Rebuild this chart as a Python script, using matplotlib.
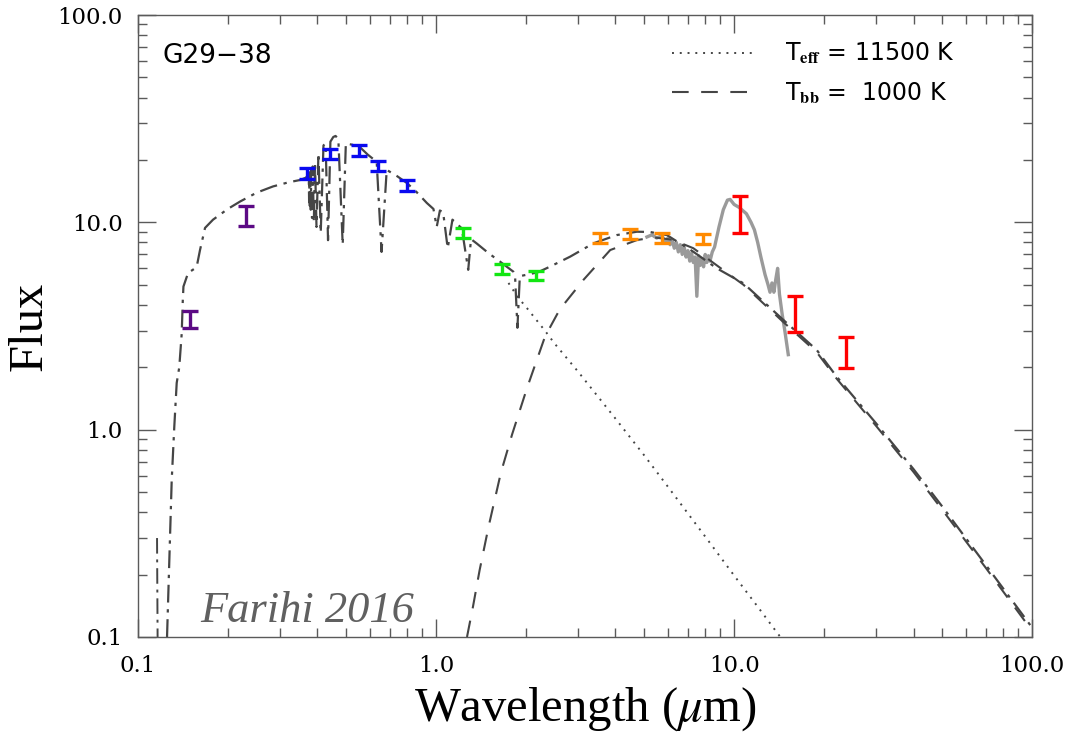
import matplotlib
matplotlib.use("Agg")
import matplotlib.pyplot as plt
import numpy as np
from matplotlib.ticker import FixedLocator, FixedFormatter, LogLocator, NullFormatter

plt.rcParams.update({
    "mathtext.fontset": "stix",
    "font.family": "DejaVu Serif",
})

# ── photometry (wavelength in micron, flux error-bar limits) ────────────────
uv_wave = [0.149, 0.230]
uv_lo = [3.09, 9.6]
uv_hi = [3.73, 12.0]

opt_wave = [0.368, 0.440, 0.551, 0.640, 0.800]
opt_lo = [16.2, 20.2, 21.0, 17.7, 14.2]
opt_hi = [18.3, 22.7, 23.6, 19.8, 16.0]

nir_wave = [1.235, 1.66, 2.17]
nir_lo = [8.37, 5.63, 5.27]
nir_hi = [9.42, 6.29, 5.82]

irac_wave = [3.55, 4.48, 5.72, 7.85]
irac_lo = [7.92, 8.28, 7.92, 7.83]
irac_hi = [8.85, 9.25, 8.85, 8.78]

mir_wave = [10.47, 16.0, 23.7]
mir_lo = [8.85, 2.97, 1.99]
mir_hi = [13.4, 4.41, 2.81]

# ── model curves ────────────────────────────────────────────────────────────
total_wave = [0.1251, 0.1297, 0.1323, 0.1348, 0.1375, 0.1401, 0.1413, 0.1420,
              0.1472, 0.1553, 0.1580, 0.1614, 0.1678, 0.1785, 0.2000, 0.2200,
              0.2500, 0.2838, 0.3200, 0.3497, 0.3650, 0.3720, 0.3740, 0.3750,
              0.3760, 0.3771, 0.3782, 0.3798, 0.3812, 0.3835, 0.3855, 0.3889,
              0.3925, 0.3970, 0.4030, 0.4102, 0.4190, 0.4260, 0.4340, 0.4420,
              0.4520, 0.4600, 0.4700, 0.4861, 0.4980, 0.5300, 0.5560, 0.5900,
              0.6320, 0.6563, 0.6830, 0.7400, 0.7970, 0.8600, 0.9310, 0.9800,
              1.0050, 1.0300, 1.0560, 1.0940, 1.1350, 1.2200, 1.2820, 1.3100,
              1.3700, 1.5000, 1.6400, 1.8170, 1.8400, 1.8750, 1.9100, 2.0670,
              2.2000, 2.4100, 2.8180, 3.3730, 4.0400, 4.7200, 5.2300, 5.9500,
              7.3000, 8.7500, 10.750, 14.640, 18.950, 22.100, 30.000, 40.000,
              50.000, 70.000, 100.00]
total_flux = [0.10, 0.57, 1.03, 1.68, 2.0, 2.9, 4.2, 4.9,
              5.7, 6.0, 6.3, 7.35, 9.4, 10.3, 11.6, 12.6,
              13.9, 14.9, 15.6, 16.0, 16.4, 16.8, 17.0, 12.5,
              17.2, 12.0, 17.5, 11.5, 18.0, 10.5, 18.6, 10.0,
              19.5, 9.5, 21.5, 8.9, 23.5, 24.0, 8.2, 24.5,
              25.8, 26.1, 25.2, 7.8, 24.0, 23.6, 23.0, 21.2,
              19.6, 7.2, 17.9, 16.7, 15.5, 14.0, 12.4, 11.6,
              9.5, 11.4, 11.2, 7.5, 10.3, 9.35, 5.9, 8.3,
              7.9, 7.1, 6.46, 5.78, 5.6, 3.1, 5.5, 5.63,
              5.75, 6.11, 6.83, 7.92, 8.68, 9.01, 8.98, 8.68,
              7.21, 6.00, 5.08, 3.38, 2.42, 1.80, 1.07, 0.645,
              0.425, 0.222, 0.111]

# short detached piece of the model near Lyman alpha
lya_wave = [0.1158, 0.1163]
lya_flux = [0.30, 0.10]

star_wave = [1.75, 1.88, 2.02, 2.32, 2.50, 3.00, 4.00, 5.00, 6.00, 8.00,
             10.0, 12.0, 14.0, 14.7]
star_flux = [5.1, 4.36, 3.85, 3.0, 2.6, 1.9, 1.13, 0.75, 0.53, 0.305,
             0.198, 0.140, 0.104, 0.095]

bb_wave = [1.27, 1.33, 1.40, 1.50, 1.65, 1.80, 2.02, 2.32, 2.60, 3.12,
           3.84, 4.73, 5.40, 6.20, 7.30, 8.75, 10.75, 14.64, 18.95, 22.10,
           30.0, 40.0, 50.0, 70.0, 100.0]
bb_flux = [0.10, 0.14, 0.21, 0.34, 0.62, 0.95, 1.59, 2.81, 3.80, 5.27,
           7.35, 8.22, 8.45, 8.25, 7.5, 6.2, 5.0, 3.30, 2.36, 1.76,
           1.04, 0.625, 0.41, 0.215, 0.107]

# Spitzer IRS spectrum (grey)
irs_wave = [5.1, 5.3, 5.5, 5.7, 5.9, 6.0, 6.1, 6.2, 6.3, 6.4, 6.5, 6.6,
            6.7, 6.8, 6.9, 7.0, 7.1, 7.2, 7.3, 7.4, 7.5, 7.6, 7.7, 7.8,
            7.9, 8.0, 8.1, 8.2, 8.3, 8.45, 8.6, 8.9, 9.2, 9.5, 9.7, 10.0,
            10.4, 11.0, 11.4, 11.7, 12.0, 12.3, 12.7, 13.0, 13.2, 13.4, 13.6,
            13.8, 14.0, 14.2, 14.5, 14.8, 15.2]
irs_flux = [8.5, 8.7, 8.4, 8.6, 8.1, 8.4, 7.8, 8.2, 7.5, 8.0, 7.2, 7.8,
            7.0, 7.6, 6.8, 7.3, 6.5, 7.1, 6.4, 6.8, 4.4, 6.9, 6.2, 6.7,
            6.1, 7.0, 6.4, 6.9, 6.5, 7.2, 7.6, 9.5, 11.5, 12.8, 12.9, 12.2,
            11.8, 11.0, 10.0, 9.2, 8.0, 6.8, 5.6, 5.0, 4.6, 5.1, 4.6,
            5.3, 6.0, 4.5, 3.6, 3.0, 2.3]

xticks = [0.1, 1.0, 10.0, 100.0]
xtick_labels = ["0.1", "1.0", "10.0", "100.0"]
yticks = [0.1, 1.0, 10.0, 100.0]
ytick_labels = ["0.1", "1.0", "10.0", "100.0"]

LINE = "#454545"
DASHDOT = (0, (8, 3, 1.5, 3))

fig = plt.figure(figsize=(10.76, 7.5), dpi=100)
ax = fig.add_axes([0.1283, 0.1507, 0.8309, 0.8293])

ax.plot(irs_wave, irs_flux, color="#9a9a9a", lw=2.4, zorder=2)
ax.plot(star_wave, star_flux, color=LINE, lw=1.4, ls=(0, (1, 3)), zorder=3,
        label=r"T$_{\mathbf{eff}}$ = 11500 K")
ax.plot(bb_wave, bb_flux, color=LINE, lw=1.5, ls=(0, (8, 6)), zorder=3,
        label=r"T$_{\mathbf{bb}}$ =  1000 K")
ax.plot(total_wave, total_flux, color=LINE, lw=1.6, ls=DASHDOT, zorder=3)
ax.plot(lya_wave, lya_flux, color=LINE, lw=1.4, ls=DASHDOT, zorder=3)

groups = [
    (uv_wave, uv_lo, uv_hi, "#5c0a85"),
    (opt_wave, opt_lo, opt_hi, "#0a0af0"),
    (nir_wave, nir_lo, nir_hi, "#12e612"),
    (irac_wave, irac_lo, irac_hi, "#ff8a00"),
    (mir_wave, mir_lo, mir_hi, "#ff0000"),
]
for w, lo, hi, col in groups:
    lo = np.array(lo)
    hi = np.array(hi)
    mid = 0.5 * (lo + hi)
    ax.errorbar(w, mid, yerr=[mid - lo, hi - mid], fmt="none", ecolor=col,
                elinewidth=2.4, capsize=5.5, capthick=2.4, zorder=4)

ax.set_xscale("log")
ax.set_yscale("log")
ax.set_xlim(0.1, 100.0)
ax.set_ylim(0.1, 100.0)

ax.xaxis.set_major_locator(FixedLocator(xticks))
ax.xaxis.set_major_formatter(FixedFormatter(xtick_labels))
ax.yaxis.set_major_locator(FixedLocator(yticks))
ax.yaxis.set_major_formatter(FixedFormatter(ytick_labels))
for axis in (ax.xaxis, ax.yaxis):
    axis.set_minor_locator(LogLocator(base=10, subs=np.arange(2, 10)))
    axis.set_minor_formatter(NullFormatter())

ax.tick_params(which="both", direction="in", top=True, right=True,
               color="#5a5a5a", width=1.0, labelsize=16.5)
ax.tick_params(which="major", length=13)
ax.tick_params(which="minor", length=6.5)
ax.tick_params(axis="y", pad=11)
ax.tick_params(axis="x", pad=13)
for lab in ax.get_xticklabels() + ax.get_yticklabels():
    lab.set_family("DejaVu Serif")
for sp in ax.spines.values():
    sp.set_color("#5a5a5a")
    sp.set_linewidth(1.0)

ax.set_xlabel(r"Wavelength ($\mu$m)", family="Liberation Serif", fontsize=35,
              labelpad=6)
ax.set_ylabel("Flux", family="Liberation Serif", fontsize=35, labelpad=4)

ax.text(0.027, 0.955, "G29\u221238", transform=ax.transAxes, ha="left",
        va="top", family="DejaVu Sans", fontsize=19)
ax.text(0.069, 0.024, "Farihi 2016", transform=ax.transAxes, ha="left",
        va="baseline", family="Liberation Serif", style="italic",
        fontsize=32, color="#606060")

leg = ax.legend(loc="upper left", bbox_to_anchor=(0.597, 0.958),
                frameon=False, borderpad=0, borderaxespad=0,
                handlelength=3.4, handletextpad=1.4, labelspacing=0.6,
                prop={"family": "DejaVu Sans", "size": 17})

fig.savefig("out.png", dpi=100)
